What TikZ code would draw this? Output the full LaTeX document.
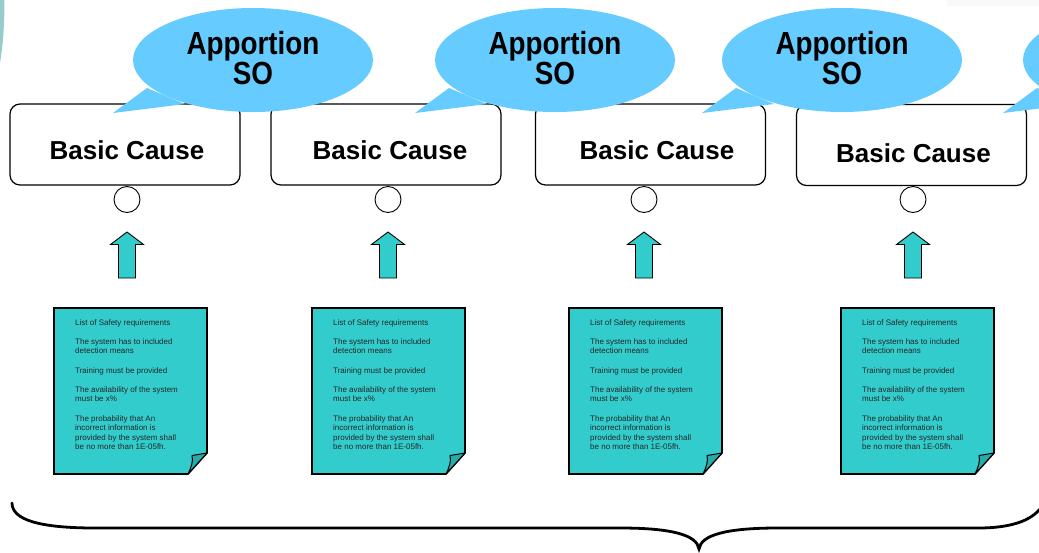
\documentclass[tikz,border=0pt]{standalone}
\usepackage{fontspec}
\setmainfont{Liberation Sans}
\newfontfamily\bubblefont[FakeStretch=0.87]{Liberation Sans}
\usetikzlibrary{shapes.geometric}

\definecolor{bubblefill}{RGB}{102,204,255}
\definecolor{sheetfill}{RGB}{51,204,204}
\definecolor{sheetflap}{RGB}{40,170,170}
\definecolor{ringfill}{RGB}{152,204,204}
\definecolor{bandfill}{RGB}{248,248,248}

\tikzset{
  causebox/.style={draw, line width=1.2pt, rounded corners=10pt, fill=white,
    minimum width=230pt, minimum height=81pt, inner sep=0pt},
  causetext/.style={font=\fontsize{26}{28}\selectfont\bfseries, inner sep=0pt},
  junction/.style={draw, line width=0.9pt, circle, fill=white,
    minimum size=26pt, inner sep=0pt},
  bubble/.style={ellipse, fill=bubblefill, minimum width=240pt,
    minimum height=104pt, inner sep=0pt},
  bubbletext/.style={font=\bubblefont\fontsize{32}{28}\selectfont\bfseries,
    align=center, inner sep=0pt},
  liftarrow/.style={draw, line width=0.9pt, fill=sheetfill, line join=miter},
  sheet/.style={draw, line width=1.6pt, fill=sheetfill, line join=miter},
  flap/.style={draw, line width=1pt, fill=sheetflap, line join=round},
  sheettext/.style={anchor=north west, inner sep=0pt, align=left,
    text=black!85, font=\fontsize{8}{9.6}\selectfont},
  bracestroke/.style={line width=2.8pt, line cap=round}
}

\newcommand{\reqlist}{List of Safety requirements\\[9.6pt]
The system has to included\\ detection means\\[9.6pt]
Training must be provided\\[9.6pt]
The availability of the system\\ must be x\%\\[9.6pt]
The probability that An\\ incorrect information is\\
provided by the system shall\\ be no more than 1E-05fh.}

\begin{document}
\begin{tikzpicture}[x=1pt,y=-1pt]
\path[use as bounding box] (0,0) rectangle (1039,552);

% edge of a large ring at the far left, faint band at the top right
\fill[ringfill] (0,0) -- (4.5,0) .. controls (4.5,25) and (3,45) .. (0,63) -- cycle;
\fill[bandfill] (947,0) rectangle (1039,6);

% basic cause boxes
\node[causebox] (box1) at (125,144.5) {};
\node[causebox] (box2) at (386,144.5) {};
\node[causebox] (box3) at (650.5,144.5) {};
\node[causebox] (box4) at (911.5,145) {};
\node[causetext] (cause1) at (127,150) {Basic Cause};
\node[causetext] (cause2) at (390,150) {Basic Cause};
\node[causetext] (cause3) at (657,150) {Basic Cause};
\node[causetext] (cause4) at (913.5,153) {Basic Cause};

% speech bubbles with their tails
\foreach \i/\cx in {1/253,2/555,3/842,4/1143}{
  \fill[bubblefill] (\cx-106,88) -- (\cx-140,113) -- (\cx-68,104) -- cycle;
  \node[bubble] (bubble\i) at (\cx,60) {};
}
\node[bubbletext] (apportion1) at (253,58) {Apportion\\SO};
\node[bubbletext] (apportion2) at (555,58) {Apportion\\SO};
\node[bubbletext] (apportion3) at (842,58) {Apportion\\SO};

% junction circles below the boxes
\node[junction] (gate1) at (127,199.5) {};
\node[junction] (gate2) at (388,199.5) {};
\node[junction] (gate3) at (644,199.5) {};
\node[junction] (gate4) at (913,199.5) {};

% block arrows pointing up
\foreach \c in {127,388,644,913}{
  \draw[liftarrow] (\c,232) -- (\c+16.5,244.5) -- (\c+8.5,244.5) -- (\c+8.5,278)
    -- (\c-8.5,278) -- (\c-8.5,244.5) -- (\c-16.5,244.5) -- cycle;
}

% requirement sheets with a curled corner
\foreach \i/\l in {1/54,2/312,3/569,4/841}{
  \draw[sheet] (\l,308) -- (\l+153,308) -- (\l+153,453) -- (\l+134,474)
    -- (\l,474) -- cycle;
  \draw[flap] (\l+153,453) -- (\l+138,455.5) .. controls (\l+139.5,461) and (\l+137,468) .. (\l+134,474) -- cycle;
  \node[sheettext] (req\i) at (\l+21,319) {\reqlist};
}

% brace underneath everything
\draw[bracestroke] (12,503) .. controls (12,520) and (40,528) .. (95,528)
  -- (620,528) .. controls (672,528) and (697,535) .. (699,549)
  .. controls (701,535) and (726,528) .. (778,528)
  -- (978,528) .. controls (1015,528) and (1034,519) .. (1043,505);
\end{tikzpicture}
\end{document}
